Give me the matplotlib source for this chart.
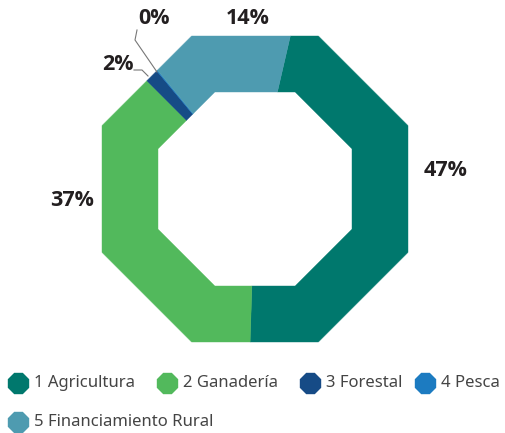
import numpy as np
import matplotlib.pyplot as plt
from matplotlib.patches import Polygon

categories = ["1 Agricultura", "2 Ganadería", "3 Forestal", "4 Pesca", "5 Financiamiento Rural"]
shares = [46.9, 37.0, 1.45, 0.1, 14.55]
labels = ["47%", "37%", "2%", "0%", "14%"]
colors = ["#00786d", "#52b95c", "#164b86", "#1c7bc1", "#4e9bb0"]

start_angle = 13.0  # degrees clockwise from top
cx, cy = 255, 189
outer_apothem, inner_apothem = 153, 97


def octagon_radius(theta_deg, apothem):
    # flat top octagon: face normals every 45 degrees starting at 0
    d = ((theta_deg + 22.5) % 45.0) - 22.5
    return apothem / np.cos(np.radians(d))


def edge_points(a0, a1, apothem):
    # sample angles, always including the octagon vertices in between
    verts = [v for v in np.arange(22.5, 720, 45) if a0 < v < a1]
    angs = [a0] + verts + [a1]
    pts = []
    for a in angs:
        r = octagon_radius(a, apothem)
        pts.append((cx + r * np.sin(np.radians(a)), cy - r * np.cos(np.radians(a))))
    return pts


fig = plt.figure(figsize=(5.06, 4.33), dpi=100)
ax = fig.add_axes([0, 0, 1, 1])
ax.set_xlim(0, 506)
ax.set_ylim(433, 0)
ax.set_aspect("equal")
ax.axis("off")

a = start_angle
for share, col in zip(shares, colors):
    span = share / 100.0 * 360.0
    outer = edge_points(a, a + span, outer_apothem)
    inner = edge_points(a, a + span, inner_apothem)[::-1]
    ax.add_patch(Polygon(outer + inner, closed=True, facecolor=col, edgecolor=col, lw=0.3))
    a += span

label_font = dict(family=["Open Sans", "DejaVu Sans"], fontweight="bold", fontsize=15.5,
                  color="#231f20", va="center", ha="center")
ax.text(446, 171, labels[0], **label_font)
ax.text(72, 200, labels[1], **label_font)
ax.text(118, 64, labels[2], **label_font)
ax.text(154, 18, labels[3], **label_font)
ax.text(248, 18, labels[4], **label_font)

# leader lines for the small slices
ax.plot([134, 142, 148], [70, 70, 76], color="#777777", lw=0.8)
ax.plot([137, 135, 157], [30, 40, 72], color="#777777", lw=0.8)

# legend
legend_font = dict(family=["Noto Sans", "DejaVu Sans"], fontsize=12, color="#444444",
                   va="center", ha="left")
legend_pos = [(18, 383), (167, 383), (310, 383), (425, 383), (18, 422)]
for (x, y), name, col in zip(legend_pos, categories, colors):
    ax.plot(x, y, marker="8", markersize=15, color=col, linestyle="none")
    ax.text(x + 16, y, name, **legend_font)

fig.savefig("out.png", dpi=100)
